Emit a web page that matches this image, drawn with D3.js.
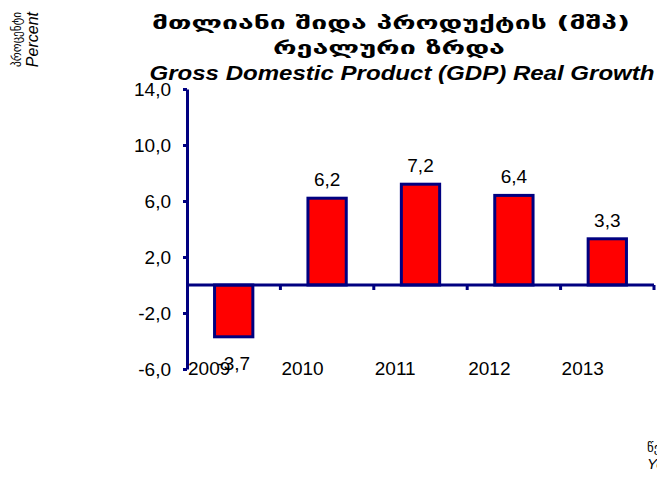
<!DOCTYPE html>
<html>
<head>
<meta charset="utf-8">
<script src="https://cdn.jsdelivr.net/npm/d3@7"></script>
<style>
  body { margin: 0; background: #fff; }
  svg { display: block; }
  text { font-family: "Liberation Sans", Arial, sans-serif; fill: #000; }
</style>
</head>
<body>
<div id="chart"></div>
<script>
const years  = ["2009", "2010", "2011", "2012", "2013"];
const growth = [-3.7, 6.2, 7.2, 6.4, 3.3];
const yTicks = [-6, -2, 2, 6, 10, 14];

const titleKa1 = "მთლიანი შიდა პროდუქტის (მშპ)";
const titleKa2 = "რეალური ზრდა";
const titleEn  = "Gross Domestic Product (GDP) Real Growth";
const yLabelKa = "პროცენტი";
const yLabelEn = "Percent";
const xLabelKa = "წელი";
const xLabelEn = "Year";

const width = 657, height = 479;
const navy = "#000080";
// comma decimals, plain hyphen for negatives
const fmt = v => d3.format(".1f")(v).replace(".", ",").replace("−", "-");

const svg = d3.select("#chart").append("svg")
  .attr("width", width).attr("height", height);

const x = d3.scaleBand().domain(years).range([187, 654])
  .paddingInner(0.59).paddingOuter(0.295);
const y = d3.scaleLinear().domain([-6, 14]).range([369, 89]);

// bars
const data = years.map((yr, i) => ({yr, v: growth[i]}));
svg.selectAll("rect.bar").data(data).join("rect")
  .attr("class", "bar")
  .attr("x", d => x(d.yr))
  .attr("width", x.bandwidth())
  .attr("y", d => y(Math.max(0, d.v)))
  .attr("height", d => Math.abs(y(d.v) - y(0)))
  .attr("fill", "#ff0000")
  .attr("stroke", navy)
  .attr("stroke-width", 3);

// y axis
const yAxis = svg.append("g")
  .attr("transform", `translate(${x.range()[0]},0)`)
  .call(d3.axisLeft(y).tickValues(yTicks).tickFormat(fmt)
    .tickSize(4).tickSizeOuter(0).tickPadding(12));
yAxis.select(".domain").attr("stroke", navy).attr("stroke-width", 3);
yAxis.selectAll(".tick line").attr("stroke", navy).attr("stroke-width", 3);
yAxis.selectAll(".tick text")
  .style("font-family", "Liberation Sans, Arial, sans-serif")
  .style("font-size", "19px").attr("fill", "#000");

// x axis at zero, ticks on category boundaries
const gap = (x.step() - x.bandwidth()) / 2;
const bounds = years.map(d => x(d) - gap).concat([x.range()[1]]);
const xg = svg.append("g");
xg.append("line")
  .attr("x1", x.range()[0]).attr("x2", x.range()[1])
  .attr("y1", y(0)).attr("y2", y(0))
  .attr("stroke", navy).attr("stroke-width", 3);
xg.selectAll("line.tk").data(bounds.slice(1)).join("line")
  .attr("class", "tk")
  .attr("x1", d => d).attr("x2", d => d)
  .attr("y1", y(0)).attr("y2", y(0) + 5)
  .attr("stroke", navy).attr("stroke-width", 3);

// category labels along bottom, starting at each boundary
svg.selectAll("text.yr").data(years).join("text")
  .attr("class", "yr")
  .attr("x", d => x(d) - gap + 1)
  .attr("y", 375)
  .style("font-size", "19px")
  .text(d => d);

// value labels
svg.selectAll("text.val").data(data).join("text")
  .attr("class", "val")
  .attr("x", d => x(d.yr) + x.bandwidth() / 2)
  .attr("y", d => d.v >= 0 ? y(d.v) - 12 : y(d.v) + 33)
  .attr("text-anchor", "middle")
  .style("font-size", "19px")
  .text(d => fmt(d.v));

// titles
svg.append("text").attr("x", 391).attr("y", 29)
  .attr("text-anchor", "middle")
  .style("font-family", "DejaVu Sans, sans-serif")
  .style("font-weight", "bold").style("font-size", "17px")
  .attr("textLength", 478).attr("lengthAdjust", "spacingAndGlyphs")
  .text(titleKa1);
svg.append("text").attr("x", 389).attr("y", 54)
  .attr("text-anchor", "middle")
  .style("font-family", "DejaVu Sans, sans-serif")
  .style("font-weight", "bold").style("font-size", "17px")
  .attr("textLength", 232).attr("lengthAdjust", "spacingAndGlyphs")
  .text(titleKa2);
svg.append("text").attr("x", 402).attr("y", 80)
  .attr("text-anchor", "middle")
  .style("font-weight", "bold").style("font-style", "italic")
  .style("font-size", "20px")
  .attr("textLength", 505).attr("lengthAdjust", "spacingAndGlyphs")
  .text(titleEn);

// y axis label (rotated)
svg.append("text")
  .attr("transform", "translate(21,12) rotate(-90)")
  .attr("text-anchor", "end")
  .style("font-family", "DejaVu Sans, sans-serif")
  .style("font-size", "13px")
  .attr("textLength", 55).attr("lengthAdjust", "spacingAndGlyphs")
  .text(yLabelKa);
svg.append("text")
  .attr("transform", "translate(38,12) rotate(-90)")
  .attr("text-anchor", "end")
  .style("font-style", "italic").style("font-size", "16px")
  .text(yLabelEn);

// x axis label, clipped at right edge
svg.append("text").attr("x", 647).attr("y", 452)
  .style("font-family", "DejaVu Sans, sans-serif")
  .style("font-size", "13px")
  .text(xLabelKa);
svg.append("text").attr("x", 647).attr("y", 469)
  .style("font-style", "italic").style("font-size", "15px")
  .text(xLabelEn);
</script>
</body>
</html>
